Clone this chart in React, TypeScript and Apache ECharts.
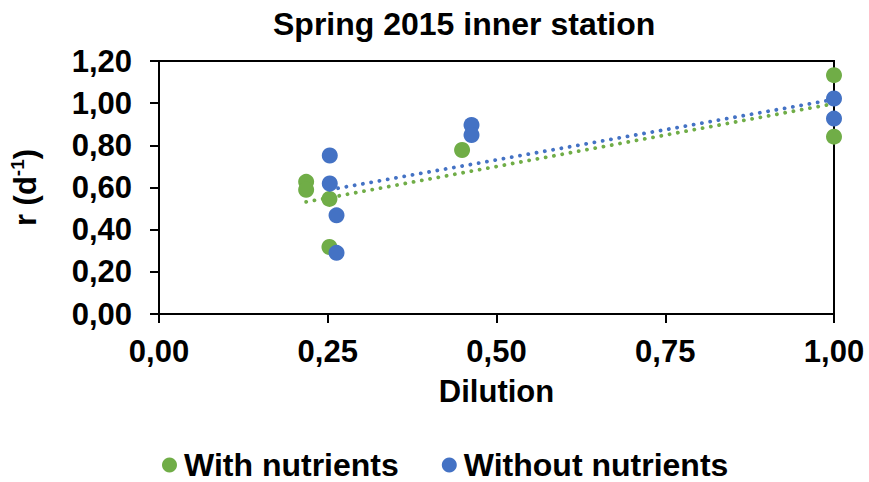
import React, { useEffect, useRef } from "react";
import * as echarts from "echarts";

const withX = [0.218, 0.218, 0.2525, 0.2525, 0.449, 1.0, 1.0];
const withY = [0.627, 0.589, 0.546, 0.318, 0.778, 1.133, 0.841];
const withoutX = [0.253, 0.253, 0.263, 0.263, 0.463, 0.463, 1.0, 1.0];
const withoutY = [0.752, 0.619, 0.468, 0.29, 0.897, 0.849, 1.022, 0.927];
const seriesNames = ["With nutrients", "Without nutrients"];
const yTicks = { min: 0, max: 1.2, interval: 0.2 };
const xTicks = { min: 0, max: 1, interval: 0.25 };

const GREEN = "#70AD47";
const BLUE = "#4472C4";
const FONT = "'Liberation Sans', Arial, sans-serif";

function pairs(xs: number[], ys: number[]) {
  return xs.map((x, i) => [x, ys[i]]);
}

function trend(xs: number[], ys: number[]) {
  const n = xs.length;
  const mx = xs.reduce((a, b) => a + b, 0) / n;
  const my = ys.reduce((a, b) => a + b, 0) / n;
  let sxy = 0;
  let sxx = 0;
  for (let i = 0; i < n; i++) {
    sxy += (xs[i] - mx) * (ys[i] - my);
    sxx += (xs[i] - mx) * (xs[i] - mx);
  }
  const b = sxy / sxx;
  const a = my - b * mx;
  const x0 = Math.min(...xs);
  const x1 = Math.max(...xs);
  return [
    [x0, a + b * x0],
    [x1, a + b * x1],
  ];
}

const fmt = (v: number) => v.toFixed(2).replace(".", ",");

export default function App() {
  const ref = useRef<HTMLDivElement>(null);
  useEffect(() => {
    if (!ref.current) return;
    const chart = echarts.init(ref.current, undefined, { renderer: "svg" });
    const dotted = (color: string) => ({
      color,
      width: 3.8,
      type: [0.1, 8.3] as any,
      cap: "round" as any,
    });
    chart.setOption({
      animation: false,
      backgroundColor: "#fff",
      textStyle: { fontFamily: FONT },
      title: {
        text: "Spring 2015 inner station",
        left: 268,
        top: 3,
        textStyle: {
          fontFamily: FONT,
          fontSize: 32,
          fontWeight: "bold",
          color: "#000",
        },
      },
      grid: {
        left: 155,
        right: 35,
        top: 61,
        bottom: 168,
        show: true,
        borderColor: "#000",
        borderWidth: 2,
        backgroundColor: "transparent",
      },
      legend: {
        data: seriesNames,
        left: 157,
        top: 444,
        icon: "circle",
        itemWidth: 15,
        itemHeight: 15,
        itemGap: 43,
        textStyle: {
          fontFamily: FONT,
          fontSize: 32,
          fontWeight: "bold",
          color: "#000",
          padding: [0, 0, 0, 2],
        },
      },
      xAxis: {
        type: "value",
        min: xTicks.min,
        max: xTicks.max,
        interval: xTicks.interval,
        name: "Dilution",
        nameLocation: "middle",
        nameGap: 62,
        nameTextStyle: {
          fontFamily: FONT,
          fontSize: 31,
          fontWeight: "bold",
          color: "#000",
        },
        axisLine: { show: true, lineStyle: { color: "#000", width: 2 } },
        axisTick: { show: true, length: 9, lineStyle: { color: "#000", width: 2 } },
        splitLine: { show: false },
        axisLabel: {
          margin: 22,
          formatter: fmt,
          fontFamily: FONT,
          fontSize: 31,
          fontWeight: "bold",
          color: "#000",
        },
      },
      yAxis: {
        type: "value",
        min: yTicks.min,
        max: yTicks.max,
        interval: yTicks.interval,
        name: "r (d{sup|-1})",
        nameLocation: "middle",
        nameRotate: 90,
        nameGap: 117,
        nameTextStyle: {
          fontFamily: FONT,
          fontSize: 31,
          fontWeight: "bold",
          color: "#000",
          rich: {
            sup: {
              fontFamily: FONT,
              fontSize: 19,
              fontWeight: "bold",
              color: "#000",
              verticalAlign: "top",
              lineHeight: 34,
            },
          },
        },
        axisLine: { show: true, lineStyle: { color: "#000", width: 2 } },
        axisTick: { show: true, length: 9, lineStyle: { color: "#000", width: 2 } },
        splitLine: { show: false },
        axisLabel: {
          margin: 27,
          formatter: fmt,
          fontFamily: FONT,
          fontSize: 31,
          fontWeight: "bold",
          color: "#000",
        },
      },
      series: [
        {
          name: seriesNames[0],
          type: "scatter",
          data: pairs(withX, withY),
          symbolSize: 16,
          itemStyle: { color: GREEN, opacity: 1 },
          z: 3,
        },
        {
          name: seriesNames[1],
          type: "scatter",
          data: pairs(withoutX, withoutY),
          symbolSize: 16,
          itemStyle: { color: BLUE, opacity: 1 },
          z: 3,
        },
        {
          name: "trend-with",
          type: "line",
          data: trend(withX, withY),
          showSymbol: false,
          symbol: "none",
          lineStyle: dotted(GREEN),
          silent: true,
          z: 4,
        },
        {
          name: "trend-without",
          type: "line",
          data: trend(withoutX, withoutY),
          showSymbol: false,
          symbol: "none",
          lineStyle: dotted(BLUE),
          silent: true,
          z: 4,
        },
      ],
    });
    return () => chart.dispose();
  }, []);
  return (
    <div
      ref={ref}
      style={{ position: "fixed", left: 0, top: 0, width: 869, height: 482 }}
    />
  );
}
